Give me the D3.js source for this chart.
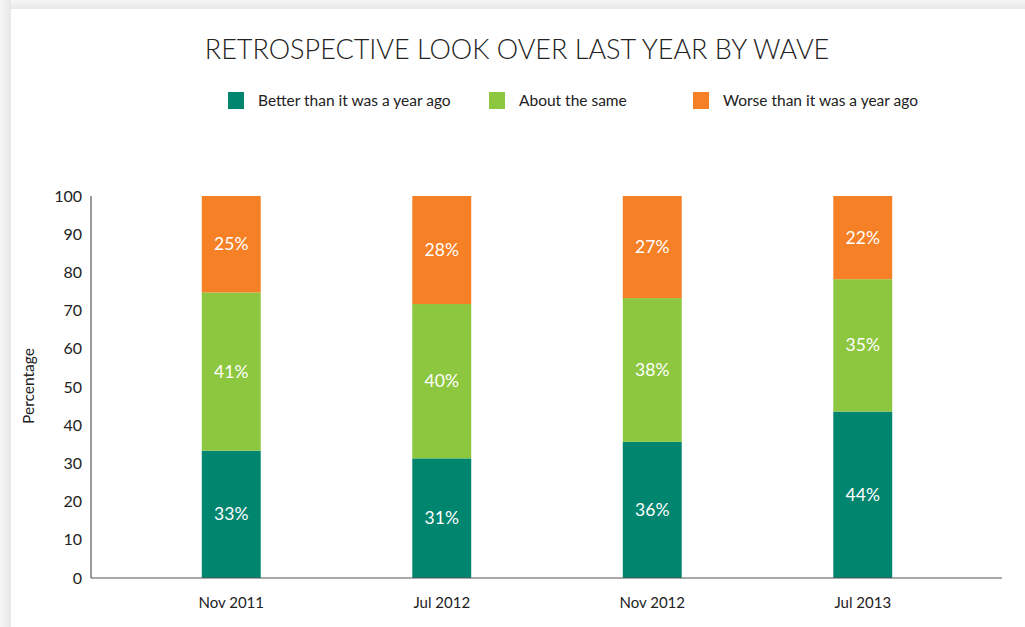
<!DOCTYPE html>
<html><head><meta charset="utf-8">
<script src="https://cdn.jsdelivr.net/npm/d3@7"></script>
<style>body{margin:0;background:#fff}svg{display:block}</style>
</head><body><svg id="c" width="1025" height="627"></svg>
<script>
const categories = ["Nov 2011", "Jul 2012", "Nov 2012", "Jul 2013"];
const seriesNames = ["Better than it was a year ago", "About the same", "Worse than it was a year ago"];
const better = [33, 31, 36, 44];
const same = [41, 40, 38, 35];
const worse = [25, 28, 27, 22];
const yTicks = [0, 10, 20, 30, 40, 50, 60, 70, 80, 90, 100];
const colors = ["#00856f", "#8dc63f", "#f58025"];
const title = "RETROSPECTIVE LOOK OVER LAST YEAR BY WAVE";
const yLabel = "Percentage";

const svg = d3.select("#c");
const font = "Lato, 'Open Sans', sans-serif";

// background frame
const defs = svg.append("defs");
const gl = defs.append("linearGradient").attr("id","gl").attr("x1","0").attr("x2","1").attr("y1","0").attr("y2","0");
gl.append("stop").attr("offset","0").attr("stop-color","#f7f7f7");
gl.append("stop").attr("offset","1").attr("stop-color","#e6e6e6");
const gt = defs.append("linearGradient").attr("id","gt").attr("x1","0").attr("x2","0").attr("y1","0").attr("y2","1");
gt.append("stop").attr("offset","0").attr("stop-color","#f6f6f6");
gt.append("stop").attr("offset","1").attr("stop-color","#e8e8e8");
svg.append("rect").attr("x",0).attr("y",0).attr("width",1025).attr("height",9).attr("fill","url(#gt)");
svg.append("rect").attr("x",0).attr("y",0).attr("width",11).attr("height",627).attr("fill","url(#gl)");
svg.append("rect").attr("x",11).attr("y",9).attr("width",1014).attr("height",618).attr("fill","#fff");

// title
svg.append("text").attr("x",517).attr("y",59).attr("text-anchor","middle")
  .attr("font-family",font).attr("font-weight",300).attr("font-size",27)
  .attr("fill","#222").text(title);

// legend
const legX = [228, 489, 693];
seriesNames.forEach((n,i)=>{
  svg.append("rect").attr("x",legX[i]).attr("y",92).attr("width",16).attr("height",17).attr("fill",colors[i]);
  svg.append("text").attr("x",legX[i]+30).attr("y",106).attr("font-family",font).attr("font-size",15.5)
    .attr("fill","#222").text(n);
});

// scales
const y = d3.scaleLinear().domain([0,100]).range([578,196]);
const x = d3.scaleBand().domain(categories).range([126,968]).paddingInner(0.72).paddingOuter(0.36);

const rows = categories.map((c,i)=>({cat:c, b:better[i], s:same[i], w:worse[i]}));
const stack = d3.stack().keys(["b","s","w"]).offset(d3.stackOffsetExpand);
const layers = stack(rows);

layers.forEach((layer,li)=>{
  const g = svg.append("g");
  g.selectAll("rect").data(layer).enter().append("rect")
    .attr("x",d=>x(d.data.cat)).attr("width",x.bandwidth())
    .attr("y",d=>y(d[1]*100)).attr("height",d=>y(d[0]*100)-y(d[1]*100))
    .attr("fill",colors[li]);
  g.selectAll("text").data(layer).enter().append("text")
    .attr("x",d=>x(d.data.cat)+x.bandwidth()/2)
    .attr("y",d=>(y(d[0]*100)+y(d[1]*100))/2+6)
    .attr("text-anchor","middle").attr("font-family",font).attr("font-size",17.5)
    .attr("fill","#fff").text(d=>d.data[layer.key]+"%");
});

// axes
svg.append("line").attr("x1",91).attr("x2",91).attr("y1",196).attr("y2",578).attr("stroke","#555").attr("stroke-width",1.2);
svg.append("line").attr("x1",91).attr("x2",1002).attr("y1",578).attr("y2",578).attr("stroke","#555").attr("stroke-width",1.2);

const yAxis = svg.append("g").attr("transform","translate(91,0)")
  .call(d3.axisLeft(y).tickValues(yTicks).tickSize(0).tickPadding(9));
yAxis.select(".domain").remove();
yAxis.selectAll("text").attr("font-family",font).attr("font-size",16).attr("fill","#222");

const xAxis = svg.append("g").attr("transform","translate(0,578)")
  .call(d3.axisBottom(x).tickSize(0).tickPadding(19));
xAxis.select(".domain").remove();
xAxis.selectAll("text").attr("font-family",font).attr("font-size",15).attr("fill","#222");

svg.append("text").attr("transform","translate(34,386) rotate(-90)").attr("text-anchor","middle")
  .attr("font-family",font).attr("font-size",15.5).attr("fill","#222").text(yLabel);
</script></body></html>
